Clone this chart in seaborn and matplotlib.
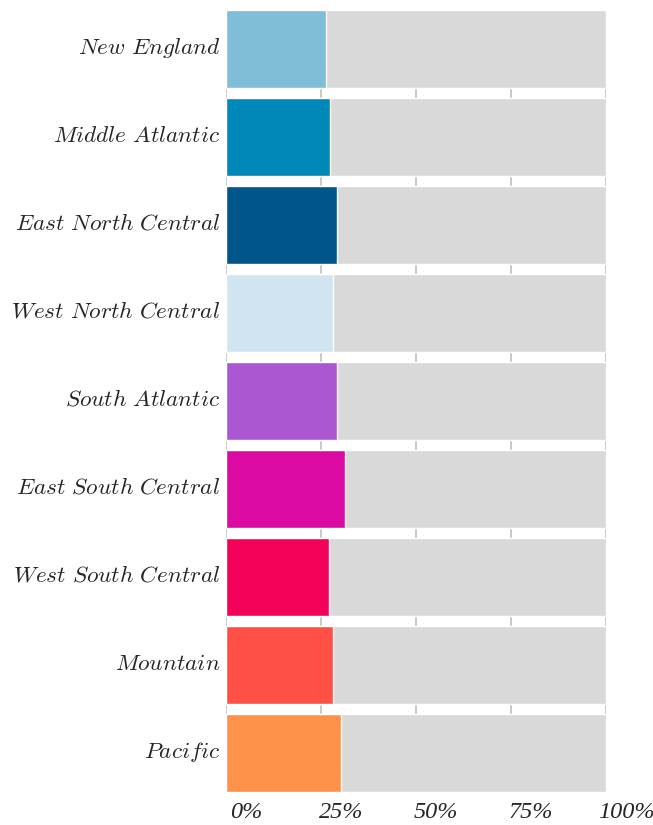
# доля по регионам, горизонтальные полосы на сером фоне до 100%
import numpy as np
import pandas as pd
import matplotlib
matplotlib.use("Agg")
import matplotlib.pyplot as plt
import matplotlib.transforms as mtransforms
import seaborn as sns

regions = ["New England", "Middle Atlantic", "East North Central",
           "West North Central", "South Atlantic", "East South Central",
           "West South Central", "Mountain", "Pacific"]
shares = [0.263, 0.274, 0.292, 0.282, 0.292, 0.313, 0.271, 0.282, 0.303]
colors = ["#80bdd9", "#0089b8", "#00568a", "#d0e5ef", "#ab57d2",
          "#da0aa2", "#f40159", "#ff5045", "#ff924b"]
xticks = [0, 0.25, 0.5, 0.75, 1.0]
xtick_labels = ["0%", "25%", "50%", "75%", "100%"]

df = pd.DataFrame({"region": regions, "share": shares, "full": 1.0})

sns.set_style("white")
plt.rcParams["mathtext.fontset"] = "cm"

fig = plt.figure(figsize=(6.53, 8.25), dpi=100)
ax = fig.add_axes([0.346, 0.04, 0.582, 0.948])

bw = 0.886
sns.barplot(data=df, x="full", y="region", color="#d9d9d9", saturation=1,
            width=bw, ax=ax)
sns.barplot(data=df, x="share", y="region", hue="region", palette=colors,
            saturation=1, width=bw, legend=False, ax=ax)

ax.set_xlim(0, 1)
ax.set_ylim(len(regions) - 1 + bw / 2, -bw / 2)
ax.set_axisbelow(True)
ax.grid(axis="x", color="#bfbfbf", linewidth=1.2)
ax.grid(axis="y", visible=False)
for s in ax.spines.values():
    s.set_visible(False)

ax.set_xlabel("")
ax.set_ylabel("")
ax.set_xticks(xticks)
ax.set_xticklabels(xtick_labels, fontsize=17.5, family="Liberation Serif",
                   style="italic")
ax.set_yticks(range(len(regions)))
ax.set_yticklabels([r"$\mathit{" + r.replace(" ", r"\ ") + "}$" for r in regions],
                   fontsize=16.8)
ax.tick_params(axis="both", length=0)
ax.tick_params(axis="y", pad=4)
ax.tick_params(axis="x", pad=7)

# подписи оси x немного сдвинуты вправо, подписи оси y чуть вверх
off = mtransforms.ScaledTranslation(0.2, 0, fig.dpi_scale_trans)
for lab in ax.get_xticklabels():
    lab.set_transform(lab.get_transform() + off)
up = mtransforms.ScaledTranslation(0, 0.04, fig.dpi_scale_trans)
for lab in ax.get_yticklabels():
    lab.set_transform(lab.get_transform() + up)

plt.savefig("out.png", dpi=100)
